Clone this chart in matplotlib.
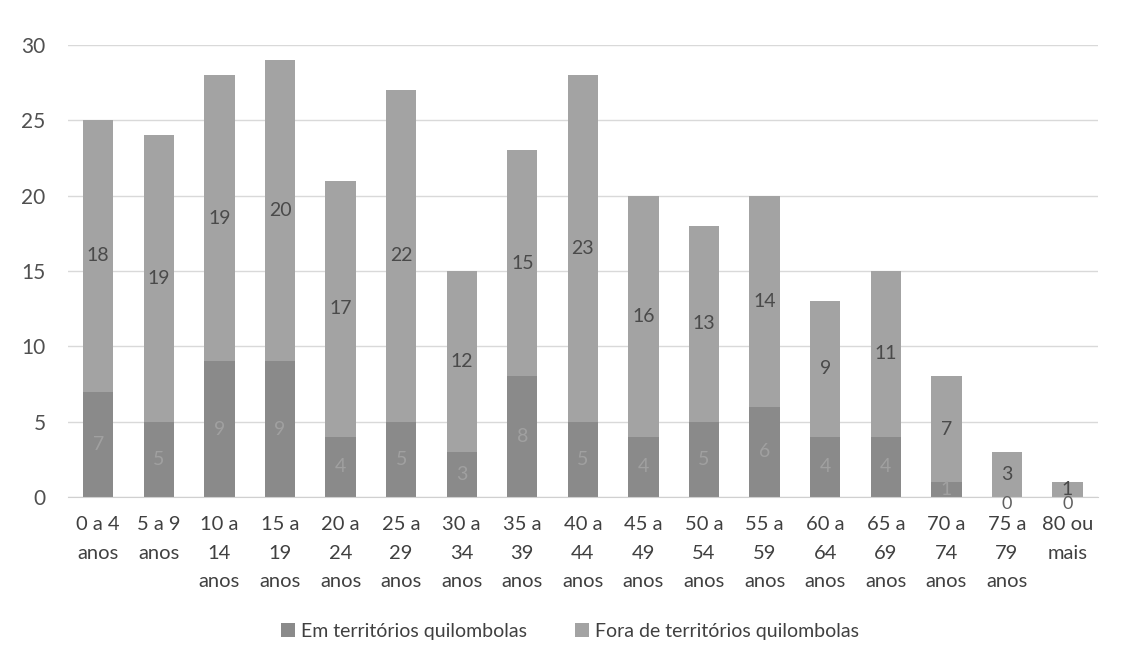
import matplotlib
matplotlib.use("Agg")
import matplotlib.pyplot as plt
import numpy as np

categories = ["0 a 4\nanos", "5 a 9\nanos", "10 a\n14\nanos", "15 a\n19\nanos", "20 a\n24\nanos",
              "25 a\n29\nanos", "30 a\n34\nanos", "35 a\n39\nanos", "40 a\n44\nanos", "45 a\n49\nanos",
              "50 a\n54\nanos", "55 a\n59\nanos", "60 a\n64\nanos", "65 a\n69\nanos", "70 a\n74\nanos",
              "75 a\n79\nanos", "80 ou\nmais"]
em_territorios = [7, 5, 9, 9, 4, 5, 3, 8, 5, 4, 5, 6, 4, 4, 1, 0, 0]
fora_territorios = [18, 19, 19, 20, 17, 22, 12, 15, 23, 16, 13, 14, 9, 11, 7, 3, 1]
series_names = ["Em territórios quilombolas", "Fora de territórios quilombolas"]
yticks = [0, 5, 10, 15, 20, 25, 30]

plt.rcParams['font.family'] = ['Lato', 'DejaVu Sans']

fig = plt.figure(figsize=(11.4, 6.66), dpi=100)
ax = fig.add_axes([0.0596, 0.2538, 0.9034, 0.6786])

x = np.arange(len(categories))
w = 0.5
b1 = ax.bar(x, em_territorios, w, color="#8a8a8a", label=series_names[0], zorder=2)
b2 = ax.bar(x, fora_territorios, w, bottom=em_territorios, color="#a3a3a3", label=series_names[1], zorder=2)

ax.bar_label(b1, labels=[str(v) if v else "" for v in em_territorios], label_type="center",
             color="#a0a0a0", fontsize=14)
for xi, v in zip(x, em_territorios):
    if v == 0:
        ax.annotate("0", (xi, v), xytext=(0, -5), textcoords="offset points",
                    ha="center", va="center", color="#606060", fontsize=13, zorder=3)
ax.bar_label(b2, labels=[str(v) for v in fora_territorios], label_type="center", color="#4a4a4a", fontsize=14)

ax.set_xlim(-0.5, len(categories) - 0.5)
ax.set_ylim(0, 30)
ax.set_yticks(yticks)
ax.set_xticks(x)
ax.set_xticklabels(categories, fontsize=14.5, color="#404040", linespacing=1.8)
ax.tick_params(axis="y", labelsize=15, labelcolor="#505050", length=0, pad=16)
ax.tick_params(axis="x", length=0, pad=14)
ax.grid(axis="y", color="#d9d9d9", linewidth=1, zorder=0)
for s in ["top", "right", "left"]:
    ax.spines[s].set_visible(False)
ax.spines["bottom"].set_color("#d0d0d0")

fig.legend(loc="center", bbox_to_anchor=(0.5, 0.052), ncol=2, frameon=False, fontsize=14,
           handlelength=0.7, handleheight=0.7, columnspacing=2.5, handletextpad=0.3,
           labelcolor="#404040")

fig.savefig("out.png", dpi=100, facecolor="white")
